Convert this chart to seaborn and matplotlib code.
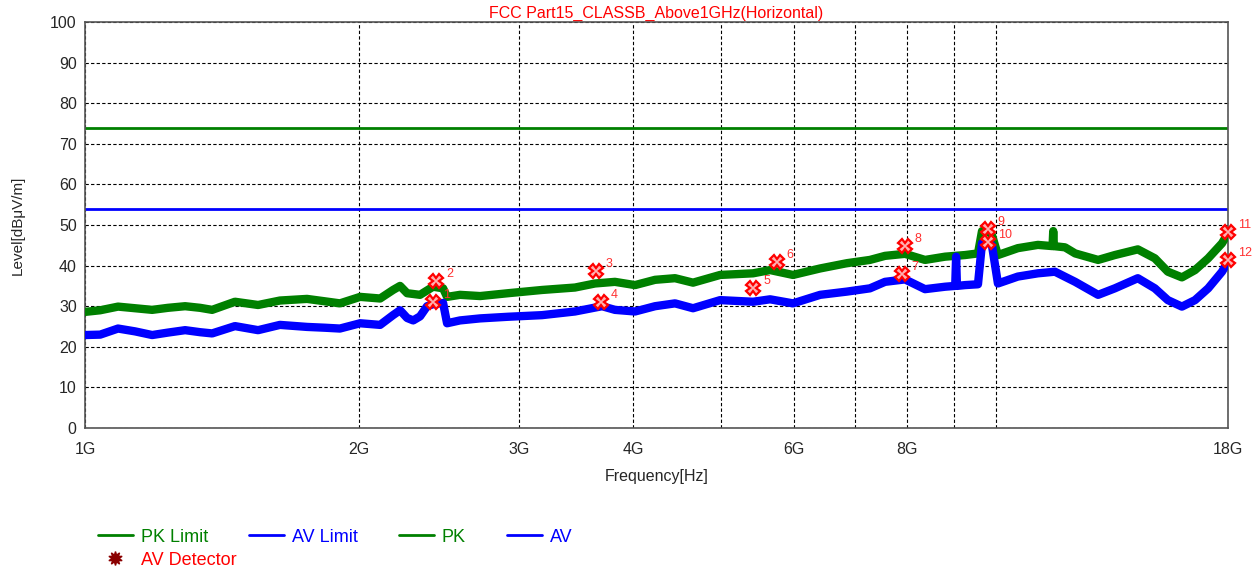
import numpy as np
import pandas as pd
import seaborn as sns
import matplotlib.pyplot as plt
from matplotlib.lines import Line2D

# ---- data (frequency in GHz, level in dBuV/m) ----
pk_freq = [1.000, 1.039, 1.087, 1.135, 1.185, 1.233, 1.288, 1.338, 1.379, 1.461,
           1.549, 1.637, 1.753, 1.835, 1.905, 2.005, 2.109, 2.179, 2.218, 2.258,
           2.333, 2.411, 2.473, 2.498, 2.581, 2.716, 2.914, 3.176, 3.452, 3.632,
           3.819, 4.018, 4.227, 4.446, 4.653, 4.983, 5.416, 5.654, 5.991, 6.417,
           6.868, 7.278, 7.561, 7.953, 8.366, 8.801, 9.257, 9.565, 9.663, 9.786,
           9.909, 10.06, 10.58, 11.13, 11.55, 11.57, 11.59, 11.92, 12.23, 12.96,
           13.52, 14.33, 14.96, 15.46, 16.02, 16.56, 17.12, 17.73, 18.0]
pk_level = [28.6, 29.0, 29.9, 29.5, 29.1, 29.6, 30.0, 29.6, 29.1, 31.1,
            30.3, 31.4, 31.8, 31.2, 30.7, 32.3, 31.9, 34.0, 35.0, 33.2,
            32.8, 34.8, 34.4, 32.3, 32.8, 32.5, 33.2, 34.0, 34.6, 35.6,
            36.0, 35.2, 36.5, 36.9, 35.8, 37.7, 38.1, 38.9, 37.7, 39.3,
            40.6, 41.4, 42.4, 42.9, 41.4, 42.2, 42.6, 43.0, 48.5, 48.8,
            47.5, 42.6, 44.3, 45.1, 44.8, 48.5, 44.8, 44.5, 43.0, 41.4,
            42.6, 44.0, 41.8, 38.5, 37.1, 38.9, 41.8, 45.5, 48.0]

av_freq = [1.000, 1.039, 1.087, 1.135, 1.185, 1.233, 1.288, 1.338, 1.379, 1.461,
           1.549, 1.637, 1.753, 1.835, 1.905, 2.005, 2.109, 2.179, 2.218, 2.258,
           2.293, 2.333, 2.375, 2.411, 2.473, 2.498, 2.581, 2.716, 2.914, 3.176,
           3.452, 3.697, 3.819, 4.018, 4.227, 4.446, 4.653, 4.983, 5.416, 5.654,
           5.991, 6.417, 6.868, 7.278, 7.561, 7.953, 8.366, 8.801, 9.03, 9.05,
           9.07, 9.257, 9.565, 9.663, 9.786, 9.909, 10.06, 10.58, 11.13, 11.62,
           12.23, 12.96, 13.52, 14.33, 14.96, 15.46, 16.02, 16.56, 17.12, 17.73,
           18.0]
av_level = [22.9, 23.0, 24.5, 23.8, 22.9, 23.5, 24.1, 23.6, 23.3, 25.1,
            24.1, 25.4, 24.9, 24.7, 24.5, 25.8, 25.4, 27.8, 29.0, 27.1,
            26.5, 27.5, 30.0, 30.5, 30.8, 25.8, 26.5, 27.0, 27.4, 27.8,
            28.7, 30.0, 29.1, 28.7, 30.0, 30.7, 29.5, 31.5, 31.1, 31.7,
            30.7, 32.8, 33.6, 34.4, 36.0, 36.6, 34.2, 34.8, 35.0, 42.2,
            35.0, 35.2, 35.4, 45.5, 45.9, 45.0, 35.6, 37.3, 38.1, 38.5,
            36.0, 32.8, 34.4, 36.9, 34.4, 31.5, 29.9, 31.5, 34.4, 38.5,
            41.0]

pk_limit = 74
av_limit = 54

mark_no = [1, 2, 3, 4, 5, 6, 7, 8, 9, 10, 11, 12]
mark_freq = [2.41, 2.43, 3.64, 3.69, 5.42, 5.75, 7.89, 7.95, 9.81, 9.81, 18.0, 18.0]
mark_level = [31.0, 36.2, 38.7, 31.0, 34.5, 40.9, 37.9, 44.8, 49.0, 45.8, 48.3, 41.4]

tick_freq = [1, 2, 3, 4, 6, 8, 18]
tick_text = ["1G", "2G", "3G", "4G", "6G", "8G", "18G"]
grid_only = [5, 7, 9, 10]

green = "#008000"
blue = "#0000ff"

sns.set_style("white")
plt.rcParams["font.family"] = ["Liberation Sans", "DejaVu Sans"]

fig = plt.figure(figsize=(12.6, 5.71), dpi=100)
ax = fig.add_axes([0.0675, 0.2504, 0.9071, 0.7111])

pk = pd.DataFrame({"freq": pk_freq, "level": pk_level})
av = pd.DataFrame({"freq": av_freq, "level": av_level})

ax.axhline(pk_limit, color=green, lw=2, zorder=2)
ax.axhline(av_limit, color=blue, lw=2, zorder=2)
sns.lineplot(data=pk, x="freq", y="level", color=green, lw=6, ax=ax,
             estimator=None, sort=False, zorder=3)
sns.lineplot(data=av, x="freq", y="level", color=blue, lw=6, ax=ax,
             estimator=None, sort=False, zorder=4)
ax.plot(mark_freq, mark_level, ls="none", marker="X", ms=10,
        mfc="#ffb0b0", mec="red", mew=1.6, zorder=6, clip_on=False)
for n, f, lv in zip(mark_no, mark_freq, mark_level):
    ax.annotate(str(n), (f, lv), xytext=(7, 3), textcoords="offset points",
                color="#ff3030", fontsize=9)

ax.set_xscale("log")
ax.set_xlim(1, 18)
ax.set_ylim(0, 100)
ax.set_xticks(tick_freq)
ax.set_xticklabels(tick_text)
ax.set_xticks(grid_only, minor=True)
ax.xaxis.set_minor_formatter(plt.NullFormatter())
ax.set_yticks(range(0, 101, 10))
ax.tick_params(axis="both", which="both", length=0, labelsize=11.5, pad=6)
ax.tick_params(axis="x", pad=10)
ax.grid(True, which="both", axis="both", ls=(0, (3, 2)), color="black", lw=0.8)
for s in ax.spines.values():
    s.set_color("#555555")
    s.set_linewidth(1.2)

ax.set_xlabel("Frequency[Hz]", fontsize=11.5, labelpad=9)
ax.set_ylabel("Level[dBμV/m]", fontsize=11, labelpad=18)
ax.set_title("FCC Part15_CLASSB_Above1GHz(Horizontal)", color="red",
             fontsize=11.5, pad=3)

h1 = [Line2D([], [], color=green, lw=2), Line2D([], [], color=blue, lw=2),
      Line2D([], [], color=green, lw=2), Line2D([], [], color=blue, lw=2)]
leg1 = fig.legend(h1, ["PK Limit", "AV Limit", "PK", "AV"], ncol=4,
                  loc="upper left", bbox_to_anchor=(0.078, 0.074),
                  frameon=False, fontsize=13, handlelength=1.9,
                  handletextpad=0.45, columnspacing=2.3,
                  borderaxespad=0, borderpad=0)
for t, c in zip(leg1.get_texts(), [green, blue, green, blue]):
    t.set_color(c)
h2 = [Line2D([], [], ls="none", marker=(10, 1, 0), ms=10, color="#8b0000")]
leg2 = fig.legend(h2, ["AV Detector"], loc="upper left",
                  bbox_to_anchor=(0.078, 0.034), frameon=False, fontsize=13,
                  handlelength=1.9, handletextpad=0.45,
                  borderaxespad=0, borderpad=0)
leg2.get_texts()[0].set_color("red")

fig.savefig("out.png", dpi=100)
